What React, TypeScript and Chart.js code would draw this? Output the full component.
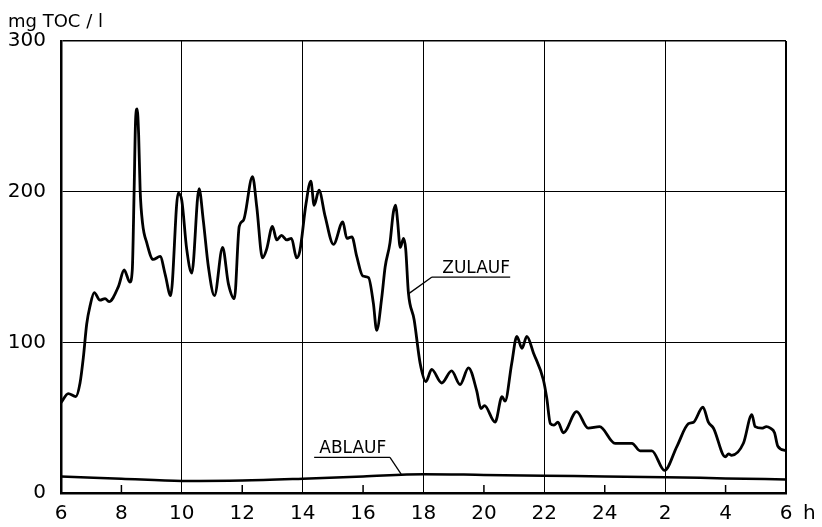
import React, { useEffect, useRef } from "react";
import { Chart, registerables } from "chart.js";

Chart.register(...registerables);

// hours elapsed since 6 h (0 .. 24)
const zulaufHours = [
  0.0, 0.24, 0.49, 0.63, 0.74, 0.85, 0.96, 1.1, 1.29, 1.46, 1.59, 1.9, 2.09, 2.28, 2.36, 2.42, 2.47, 2.52, 2.57,
  2.62, 2.7, 2.84, 3.05, 3.28, 3.45, 3.63, 3.88, 4.0, 4.16, 4.33, 4.57, 4.71, 4.88, 5.08, 5.35, 5.54, 5.74,
  5.9, 6.04, 6.34, 6.48, 6.67, 6.81, 7.0, 7.14, 7.3, 7.47, 7.63, 7.8, 7.91, 8.11, 8.27, 8.38, 8.54, 8.74,
  9.02, 9.33, 9.46, 9.63, 9.79, 9.99, 10.18, 10.34, 10.45, 10.62, 10.73, 10.89, 11.0, 11.08, 11.14, 11.23,
  11.34, 11.41, 11.5, 11.69, 11.89, 12.08, 12.27, 12.6, 12.93, 13.21, 13.49, 13.76, 13.9, 14.02, 14.37,
  14.6, 14.7, 14.92, 15.09, 15.26, 15.42, 15.64, 15.97, 16.08, 16.2, 16.32, 16.45, 16.63, 17.07, 17.45,
  17.83, 18.34, 18.79, 18.9, 19.17, 19.56, 19.98, 20.39, 20.77, 20.94, 21.25, 21.43, 21.6, 21.99, 22.1,
  22.2, 22.59, 22.87, 22.98, 23.2, 23.35, 23.48, 23.62, 23.73, 24.0,
];
const zulaufValues = [
  60, 66, 64, 73, 90, 112, 124, 133, 128, 129, 127, 137, 148, 140, 148, 200, 248, 255, 238,
  201, 179, 166, 155, 157, 145, 131, 199, 194, 162, 146, 202, 181, 150, 131, 163, 139, 129,
  177, 181, 210, 190, 156, 162, 177, 168, 171, 168, 169, 156, 161, 192, 207, 191, 201, 184,
  165, 180, 169, 170, 157, 144, 143, 126, 108, 130, 150, 166, 186, 191, 181, 163,
  169, 162, 133, 115, 86, 74, 82, 73, 81, 72, 83, 68, 56, 58, 47,
  64, 61, 86, 104, 96, 104, 93, 75, 63, 46, 45, 47, 40, 54, 43,
  44, 33, 33, 33, 28, 28, 15, 31, 46, 47, 57, 47, 43, 24, 26,
  25, 33, 52, 44, 43, 44, 43, 40, 31, 28,
];

const ablaufHours = [0, 2, 4, 6, 8, 10, 12, 14, 16, 18, 20, 22, 24];
const ablaufValues = [11, 9.5, 8, 8.3, 9.5, 11, 12.5, 12, 11.5, 11, 10.5, 9.7, 9];

const xTickHours = [0, 2, 4, 6, 8, 10, 12, 14, 16, 18, 20, 22, 24];
const xTickLabels = ["6", "8", "10", "12", "14", "16", "18", "20", "22", "24", "2", "4", "6"];
const yTickValues = [0, 100, 200, 300];

const yAxisTitle = "mg TOC / l";
const xAxisUnit = "h";
const zulaufLabel = "ZULAUF";
const ablaufLabel = "ABLAUF";

const FONT = '"DejaVu Sans", sans-serif';

const decorPlugin = {
  id: "decor",
  afterDraw(chart: any) {
    const { ctx, scales } = chart;
    const xs = scales.x;
    const ys = scales.y;
    ctx.save();
    ctx.fillStyle = "#000";
    ctx.strokeStyle = "#000";
    // axis title
    ctx.font = `18px ${FONT}`;
    ctx.textAlign = "left";
    ctx.textBaseline = "alphabetic";
    ctx.fillText(yAxisTitle, 8, 27);
    // unit h
    ctx.font = `20px ${FONT}`;
    ctx.textBaseline = "middle";
    ctx.fillText(xAxisUnit, xs.right + 17, ys.bottom + 21);
    // small inner tick marks
    ctx.lineWidth = 1.5;
    xTickHours.forEach((h) => {
      if (h % 4 === 2) {
        const px = xs.getPixelForValue(h);
        ctx.beginPath();
        ctx.moveTo(px, ys.bottom);
        ctx.lineTo(px, ys.bottom - 8);
        ctx.stroke();
      }
    });
    // labels with leader lines
    const drawLabel = (text: string, tx: number, tv: number, u0: number, u1: number, uv: number, leadFromRight: boolean, ex: number, ev: number) => {
      ctx.font = `17px ${FONT}`;
      ctx.textBaseline = "alphabetic";
      ctx.textAlign = "left";
      ctx.fillText(text, xs.getPixelForValue(tx), ys.getPixelForValue(tv));
      ctx.lineWidth = 1.3;
      const uy = ys.getPixelForValue(uv);
      const ax = xs.getPixelForValue(u0);
      const bx = xs.getPixelForValue(u1);
      ctx.beginPath();
      ctx.moveTo(ax, uy);
      ctx.lineTo(bx, uy);
      ctx.stroke();
      ctx.beginPath();
      ctx.moveTo(leadFromRight ? bx : ax, uy);
      ctx.lineTo(xs.getPixelForValue(ex), ys.getPixelForValue(ev));
      ctx.stroke();
    };
    drawLabel(zulaufLabel, 12.62, 146, 12.28, 14.87, 143.3, false, 11.49, 132);
    drawLabel(ablaufLabel, 8.55, 26.6, 8.38, 10.89, 23.6, true, 11.26, 12.6);
    ctx.restore();
  },
};

export default function App() {
  const ref = useRef<HTMLCanvasElement>(null);
  useEffect(() => {
    if (!ref.current) return;
    const chart = new Chart(ref.current, {
      type: "line",
      data: {
        datasets: [
          {
            label: "Zulauf",
            data: zulaufHours.map((h, i) => ({ x: h, y: zulaufValues[i] })),
            borderColor: "#000",
            borderWidth: 2.8,
            pointRadius: 0,
            cubicInterpolationMode: "monotone",
            fill: false,
          },
          {
            label: "Ablauf",
            data: ablaufHours.map((h, i) => ({ x: h, y: ablaufValues[i] })),
            borderColor: "#000",
            borderWidth: 2.5,
            pointRadius: 0,
            cubicInterpolationMode: "monotone",
            fill: false,
          },
        ],
      },
      options: {
        responsive: false,
        animation: false,
        layout: { padding: { left: 0, right: 36, top: 41, bottom: 0 } },
        plugins: { legend: { display: false }, tooltip: { enabled: false }, title: { display: false } },
        scales: {
          x: {
            type: "linear",
            min: 0,
            max: 24,
            afterBuildTicks: (s: any) => {
              s.ticks = xTickHours.map((v) => ({ value: v }));
            },
            afterFit: (s: any) => {
              s.height = 34;
            },
            ticks: {
              autoSkip: false,
              maxRotation: 0,
              padding: 9,
              color: "#000",
              font: { family: FONT, size: 20 },
              callback: (v: any) => xTickLabels[xTickHours.indexOf(Number(v))],
            },
            grid: {
              drawTicks: false,
              color: (c: any) => (c.tick && c.tick.value % 4 === 0 ? "#000" : "rgba(0,0,0,0)"),
              lineWidth: (c: any) => (c.tick && (c.tick.value === 0 || c.tick.value === 24) ? 2 : 1),
            },
            border: { display: true, color: "#000", width: 2.5 },
          },
          y: {
            type: "linear",
            min: 0,
            max: 300,
            afterBuildTicks: (s: any) => {
              s.ticks = yTickValues.map((v) => ({ value: v }));
            },
            afterFit: (s: any) => {
              s.width = 61;
            },
            ticks: {
              padding: 15,
              color: "#000",
              font: { family: FONT, size: 20 },
            },
            grid: {
              drawTicks: false,
              color: "#000",
              lineWidth: (c: any) => (c.tick && c.tick.value === 300 ? 1.5 : 1),
            },
            border: { display: true, color: "#000", width: 2.5 },
          },
        },
      },
      plugins: [decorPlugin],
    } as any);
    return () => chart.destroy();
  }, []);
  return (
    <div style={{ position: "fixed", left: 0, top: 0, width: 822, height: 527, background: "#fff" }}>
      <canvas ref={ref} width={822} height={527} style={{ display: "block" }} />
    </div>
  );
}
